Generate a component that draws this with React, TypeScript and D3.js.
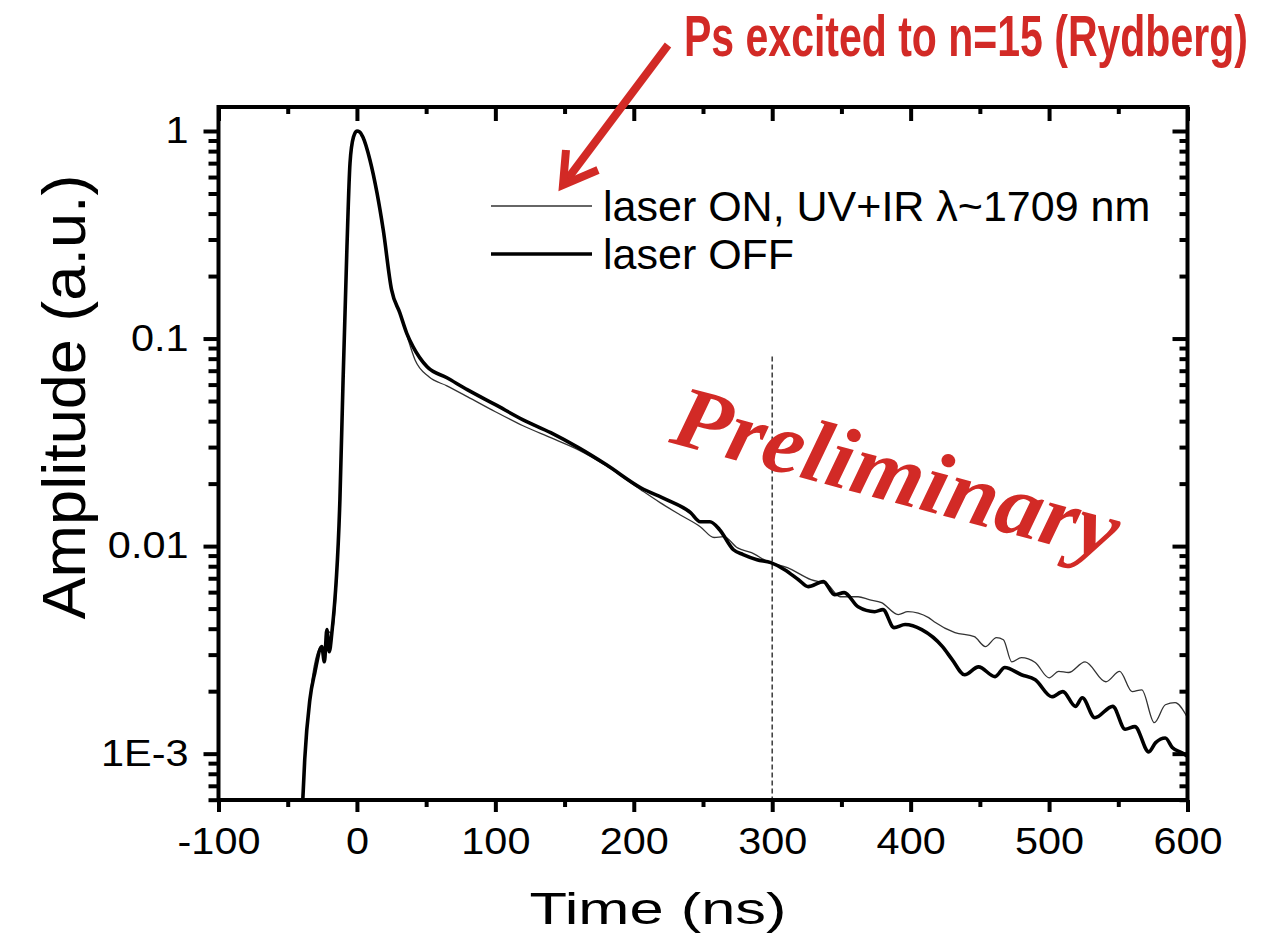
import React, { useEffect, useRef } from "react";
import * as d3 from "d3";

// laser OFF (thick trace)
const offTime = [-39.1, -37.7, -34, -30.4, -25.4, -23.5, -21.7, -20, -18.1, -12.3, -10, -7.2, -5, -2.5, 0, 2, 4.3, 9.4, 14.5, 19, 25, 31, 36, 40.6, 50.7, 65, 80, 100, 120, 140, 160, 180, 205, 224, 241, 248, 255, 262, 272, 279, 289, 299, 309, 319, 326, 337, 345, 352, 362, 374, 380, 388, 396, 408, 423, 430, 439, 449, 461, 468, 480, 490, 502, 510, 519, 524, 533, 546, 555, 562, 572, 577, 584, 589, 596, 600];
const offAmp = [6.0e-4, 9.4e-4, 1.82e-3, 2.46e-3, 3.28e-3, 2.77e-3, 3.96e-3, 3.1e-3, 3.83e-3, 1.67e-2, 6.33e-2, 0.277, 0.70, 0.935, 1.0, 0.99, 0.935, 0.725, 0.503, 0.334, 0.172, 0.133, 0.106, 0.0912, 0.0731, 0.0647, 0.0566, 0.048, 0.0406, 0.0352, 0.0298, 0.0247, 0.0191, 0.0167, 0.0145, 0.0131, 0.0131, 0.012, 0.0096, 0.0091, 0.0086, 0.00832, 0.0077, 0.00689, 0.00638, 0.00674, 0.00583, 0.00597, 0.0051, 0.00483, 0.00494, 0.00405, 0.00419, 0.00396, 0.00328, 0.00284, 0.0024, 0.00262, 0.00235, 0.0026, 0.0024, 0.00227, 0.00188, 0.00199, 0.00169, 0.00186, 0.00149, 0.00169, 0.00131, 0.00135, 0.00102, 0.00113, 0.00119, 0.00107, 0.00101, 0.00097];

// laser ON (thin trace)
const onTime = [-39.1, -37.7, -35, -32.6, -27.5, -25.4, -24, -21.7, -18.1, -12.3, -10, -7.2, -5, -2.5, 0, 2, 4.3, 9.4, 14.5, 19, 25, 31, 36, 42, 52, 65, 80, 100, 120, 140, 160, 180, 205, 219, 233, 248, 258, 265, 275, 285, 297, 311, 328, 340, 349, 362, 370, 379, 391, 398, 413, 417, 432, 446, 454, 462, 467, 473, 480, 490, 500, 507, 514, 526, 541, 551, 560, 567, 576, 584, 591, 600];
const onAmp = [6.0e-4, 9.6e-4, 1.6e-3, 2.22e-3, 3.17e-3, 3.28e-3, 2.8e-3, 3.9e-3, 3.8e-3, 1.67e-2, 6.33e-2, 0.277, 0.70, 0.935, 1.0, 0.99, 0.935, 0.725, 0.503, 0.334, 0.172, 0.133, 0.104, 0.0789, 0.0654, 0.0592, 0.0524, 0.0444, 0.038, 0.0333, 0.0291, 0.0244, 0.0187, 0.0162, 0.0142, 0.0124, 0.011, 0.0111, 0.0098, 0.0093, 0.0084, 0.00787, 0.00689, 0.00652, 0.0057, 0.0057, 0.00552, 0.00534, 0.00468, 0.00483, 0.00452, 0.00432, 0.00383, 0.00366, 0.00328, 0.00362, 0.00354, 0.00277, 0.0029, 0.00275, 0.00232, 0.00249, 0.00246, 0.00277, 0.00222, 0.00249, 0.00199, 0.00203, 0.00141, 0.00172, 0.00176, 0.00149];

const xTicks = [-100, 0, 100, 200, 300, 400, 500, 600];
const xMinorTicks = [-50, 50, 150, 250, 350, 450, 550];
const yTicks = [1, 0.1, 0.01, 0.001];
const yTickLabels = ["1", "0.1", "0.01", "1E-3"];
const legendLabels = ["laser ON, UV+IR \u03bb~1709 nm", "laser OFF"];
const markerTime = 300;

const W = 1269, H = 941;
const left = 218.5, right = 1187.5, top = 107, bottom = 800;
const RED = "#d22a26";
const FONT = "'Liberation Sans', Arial, sans-serif";

function stretch(sel: any, k: number) {
	sel.each(function (this: any) {
		const w = this.getComputedTextLength();
		d3.select(this).attr("textLength", w * k).attr("lengthAdjust", "spacingAndGlyphs");
	});
}

export default function App() {
	const ref = useRef<SVGSVGElement>(null);

	useEffect(() => {
		const svg = d3.select(ref.current);
		svg.selectAll("*").remove();

		const x = d3.scaleLinear().domain([-100, 600]).range([left, right]);
		const y = d3.scaleLog().domain([5.98e-4, 1.305]).range([bottom, top]);

		// minor log ticks
		const yMinor: number[] = [];
		[1e-4, 1e-3, 1e-2, 1e-1].forEach((d) => {
			for (let m = 2; m <= 9; m++) {
				const v = d * m;
				if (v >= y.domain()[0] && v <= y.domain()[1]) yMinor.push(v);
			}
		});

		svg.append("defs").append("clipPath").attr("id", "plotClip")
			.append("rect").attr("x", left).attr("y", top)
			.attr("width", right - left).attr("height", bottom - top);

		const styleAxis = (g: any) => {
			g.select(".domain").remove();
			g.selectAll(".tick line").attr("stroke", "#000").attr("stroke-width", 4);
		};

		// bottom axis (outward)
		const gb = svg.append("g").attr("transform", `translate(0,${bottom})`)
			.call(d3.axisBottom(x).tickValues(xTicks).tickSize(12).tickPadding(16).tickFormat((d: any) => String(d)));
		styleAxis(gb);
		gb.selectAll("text").attr("font-size", 36).attr("font-family", FONT).attr("fill", "#000");
		stretch(gb.selectAll("text"), 1.15);
		svg.append("g").attr("transform", `translate(0,${bottom})`)
			.call(d3.axisBottom(x).tickValues(xMinorTicks).tickSize(7).tickFormat(() => ""))
			.call(styleAxis);

		// top axis (inward)
		svg.append("g").attr("transform", `translate(0,${top})`)
			.call(d3.axisTop(x).tickValues(xTicks).tickSize(-14).tickFormat(() => ""))
			.call(styleAxis);
		svg.append("g").attr("transform", `translate(0,${top})`)
			.call(d3.axisTop(x).tickValues(xMinorTicks).tickSize(-7).tickFormat(() => ""))
			.call(styleAxis);

		// left axis (outward)
		const gl = svg.append("g").attr("transform", `translate(${left},0)`)
			.call(d3.axisLeft(y).tickValues(yTicks).tickSize(15).tickPadding(15)
				.tickFormat((d: any, i: number) => yTickLabels[i]));
		styleAxis(gl);
		gl.selectAll("text").attr("font-size", 37).attr("font-family", FONT).attr("fill", "#000");
		stretch(gl.selectAll("text"), 1.12);
		svg.append("g").attr("transform", `translate(${left},0)`)
			.call(d3.axisLeft(y).tickValues(yMinor).tickSize(10).tickFormat(() => ""))
			.call(styleAxis);

		// right axis (inward)
		svg.append("g").attr("transform", `translate(${right},0)`)
			.call(d3.axisRight(y).tickValues(yTicks).tickSize(-15).tickFormat(() => ""))
			.call(styleAxis);
		svg.append("g").attr("transform", `translate(${right},0)`)
			.call(d3.axisRight(y).tickValues(yMinor).tickSize(-8).tickFormat(() => ""))
			.call(styleAxis);

		// dashed marker at 300 ns
		svg.append("line")
			.attr("x1", x(markerTime)).attr("x2", x(markerTime))
			.attr("y1", y(0.082)).attr("y2", bottom)
			.attr("stroke", "#444").attr("stroke-width", 1.6).attr("stroke-dasharray", "5,3");

		const line = d3.line<[number, number]>()
			.x((d) => x(d[0]))
			.y((d) => y(d[1]))
			.curve(d3.curveMonotoneX);

		const plot = svg.append("g").attr("clip-path", "url(#plotClip)");
		plot.append("path")
			.attr("d", line(onTime.map((t, i) => [t, onAmp[i]] as [number, number])))
			.attr("fill", "none").attr("stroke", "#333").attr("stroke-width", 1.3);
		plot.append("path")
			.attr("d", line(offTime.map((t, i) => [t, offAmp[i]] as [number, number])))
			.attr("fill", "none").attr("stroke", "#000").attr("stroke-width", 3.6)
			.attr("stroke-linejoin", "round");

		// frame
		svg.append("rect")
			.attr("x", left).attr("y", top)
			.attr("width", right - left).attr("height", bottom - top)
			.attr("fill", "none").attr("stroke", "#000").attr("stroke-width", 4);

		// legend
		const legY = [206, 254];
		const legW = [1.3, 3.6];
		const legC = ["#333", "#000"];
		legendLabels.forEach((lab, i) => {
			svg.append("line").attr("x1", 491).attr("x2", 592)
				.attr("y1", legY[i]).attr("y2", legY[i])
				.attr("stroke", legC[i]).attr("stroke-width", legW[i]);
			svg.append("text").attr("x", 603).attr("y", legY[i] + 15)
				.attr("font-family", FONT).attr("font-size", 43).attr("fill", "#000")
				.text(lab);
		});

		// axis titles
		svg.append("text").attr("x", 658).attr("y", 924)
			.attr("text-anchor", "middle").attr("font-family", FONT).attr("font-size", 44)
			.attr("textLength", 257).attr("lengthAdjust", "spacingAndGlyphs")
			.text("Time (ns)");

		svg.append("text")
			.attr("transform", "translate(85,397) rotate(-90)")
			.attr("text-anchor", "middle").attr("font-family", FONT).attr("font-size", 62)
			.attr("textLength", 445).attr("lengthAdjust", "spacingAndGlyphs")
			.text("Amplitude (a.u.)");

		// annotation title (condensed look: tall glyphs, natural width)
		svg.append("text")
			.attr("transform", "translate(684,56) scale(1,1.42)")
			.attr("font-family", FONT)
			.attr("font-weight", "bold").attr("font-size", 41).attr("fill", RED)
			.text("Ps excited to n=15 (Rydberg)");

		// arrow
		const tip = [563, 185];
		svg.append("line").attr("x1", 668).attr("y1", 45).attr("x2", tip[0] + 3).attr("y2", tip[1] - 4)
			.attr("stroke", RED).attr("stroke-width", 8);
		svg.append("polyline")
			.attr("points", `566,150 ${tip[0]},${tip[1]} 598,170`)
			.attr("fill", "none").attr("stroke", RED).attr("stroke-width", 8)
			.attr("stroke-linejoin", "miter");

		// watermark
		svg.append("text")
			.attr("transform", "translate(668,442) rotate(15)")
			.attr("font-family", "'Liberation Serif', 'DejaVu Serif', serif")
			.attr("font-style", "italic").attr("font-weight", "bold")
			.attr("font-size", 88).attr("fill", RED)
			.attr("textLength", 458).attr("lengthAdjust", "spacingAndGlyphs")
			.text("Preliminary");
	}, []);

	return (
		<div style={{ position: "absolute", left: 0, top: 0 }}>
			<svg ref={ref} width={W} height={H} style={{ display: "block", background: "#fff" }} />
		</div>
	);
}
